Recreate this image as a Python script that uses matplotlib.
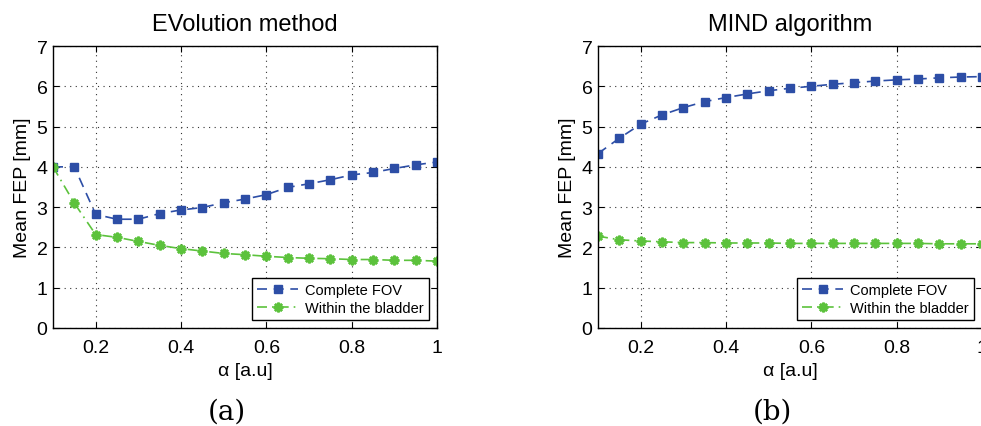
import matplotlib
matplotlib.use("Agg")
import matplotlib.pyplot as plt
import numpy as np

alpha = [0.10, 0.15, 0.20, 0.25, 0.30, 0.35, 0.40, 0.45, 0.50, 0.55,
         0.60, 0.65, 0.70, 0.75, 0.80, 0.85, 0.90, 0.95, 1.00]

evo_complete = [4.00, 4.00, 2.82, 2.70, 2.70, 2.84, 2.93, 2.99, 3.11, 3.20,
                3.31, 3.49, 3.58, 3.68, 3.80, 3.86, 3.96, 4.05, 4.12]
evo_bladder = [4.00, 3.10, 2.32, 2.25, 2.15, 2.05, 1.97, 1.91, 1.85, 1.82,
               1.78, 1.75, 1.73, 1.72, 1.70, 1.70, 1.68, 1.68, 1.66]

mind_complete = [4.33, 4.71, 5.06, 5.29, 5.47, 5.62, 5.72, 5.81, 5.89, 5.95,
                 6.00, 6.05, 6.09, 6.13, 6.16, 6.18, 6.21, 6.23, 6.24]
mind_bladder = [2.28, 2.19, 2.16, 2.14, 2.12, 2.12, 2.11, 2.11, 2.11, 2.10,
                2.10, 2.10, 2.10, 2.10, 2.10, 2.10, 2.09, 2.09, 2.09]

titles = ["EVolution method", "MIND algorithm"]
captions = ["(a)", "(b)"]
labels = ["Complete FOV", "Within the bladder"]
xticks = [0.2, 0.4, 0.6, 0.8, 1.0]
xticklabels = ["0.2", "0.4", "0.6", "0.8", "1"]
yticks = [0, 1, 2, 3, 4, 5, 6, 7]

plt.rcParams['font.family'] = ['Liberation Sans', 'DejaVu Sans']
plt.rcParams['mathtext.fontset'] = 'cm'

W, H = 981, 427
fig = plt.figure(figsize=(W / 100, H / 100), dpi=100)

blue = '#2d4ea6'
green = '#5cc23c'

panels = [(evo_complete, evo_bladder), (mind_complete, mind_bladder)]
lefts = [53, 598]
for i, (comp, blad) in enumerate(panels):
    x0 = lefts[i]
    ax = fig.add_axes([x0 / W, (H - 329) / H, 384 / W, (329 - 47) / H])
    ax.plot(alpha, comp, linestyle=(0, (6, 4)), color=blue, lw=1.2,
            marker='s', markersize=6, markerfacecolor=blue,
            markeredgecolor=blue, label=labels[0])
    ax.plot(alpha, blad, linestyle=(0, (6, 3, 1, 3)), color=green, lw=1.2,
            marker=(8, 2, 0), markersize=7, markeredgewidth=1.8,
            markeredgecolor=green, label=labels[1])
    ax.set_xlim(0.1, 1.0)
    ax.set_ylim(0, 7)
    ax.set_xticks(xticks)
    ax.set_xticklabels(xticklabels)
    ax.set_yticks(yticks)
    ax.grid(True, color='#333333', linestyle=(0, (1, 4)), lw=0.8)
    ax.tick_params(direction='in', labelsize=14, length=4, top=True, right=True)
    ax.tick_params(axis='x', pad=8)
    ax.tick_params(axis='y', pad=4)
    for s in ax.spines.values():
        s.set_linewidth(1.0)
    ax.set_title(titles[i], fontsize=17, pad=11.5)
    ax.set_ylabel("Mean FEP [mm]", fontsize=14, labelpad=4)
    ax.set_xlabel("\u03b1 [a.u]", fontsize=14, labelpad=4)
    leg = ax.legend(loc='lower right', fontsize=10.5, fancybox=False,
                    framealpha=1, edgecolor='black', borderaxespad=0.55,
                    handlelength=2.8, handletextpad=0.5, borderpad=0.35,
                    labelspacing=0.25)
    leg.get_frame().set_linewidth(1.0)
    fig.text((x0 + 174) / W, 1 - 412 / H, captions[i], fontsize=20,
             family='DejaVu Serif', ha='center', va='center')

fig.savefig("out.png", dpi=100)
